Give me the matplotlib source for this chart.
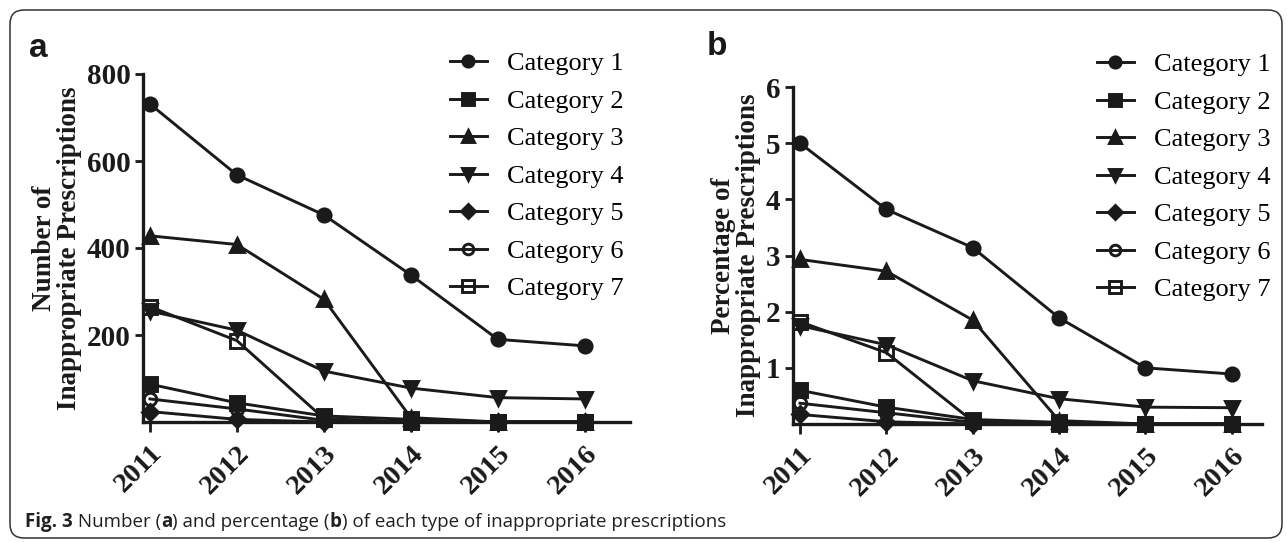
import matplotlib
matplotlib.use("Agg")
import matplotlib.pyplot as plt
from matplotlib.patches import FancyBboxPatch
from matplotlib.font_manager import FontProperties

# ---------------- data ----------------
years = ["2011", "2012", "2013", "2014", "2015", "2016"]
categories = ["Category 1", "Category 2", "Category 3", "Category 4",
              "Category 5", "Category 6", "Category 7"]

# panel a: number of inappropriate prescriptions
count_cat1 = [731, 568, 476, 338, 190, 175]
count_cat2 = [87, 44, 14, 6, 0, 0]
count_cat3 = [428, 408, 282, 10, 0, 0]
count_cat4 = [255, 211, 117, 78, 56, 53]
count_cat5 = [24, 6, 0, 0, 0, 0]
count_cat6 = [53, 30, 4, 0, 0, 0]
count_cat7 = [265, 187, 8, 0, 0, 0]

# panel b: percentage of inappropriate prescriptions
pct_cat1 = [5.0, 3.82, 3.14, 1.89, 1.0, 0.89]
pct_cat2 = [0.6, 0.3, 0.08, 0.03, 0, 0]
pct_cat3 = [2.93, 2.72, 1.85, 0.06, 0, 0]
pct_cat4 = [1.75, 1.41, 0.77, 0.45, 0.30, 0.29]
pct_cat5 = [0.17, 0.04, 0, 0, 0, 0]
pct_cat6 = [0.37, 0.2, 0.03, 0, 0, 0]
pct_cat7 = [1.82, 1.27, 0.05, 0, 0, 0]

count_series = [count_cat1, count_cat2, count_cat3, count_cat4,
                count_cat5, count_cat6, count_cat7]
pct_series = [pct_cat1, pct_cat2, pct_cat3, pct_cat4,
              pct_cat5, pct_cat6, pct_cat7]

# ---------------- style ----------------
W, H = 1287, 542
INK = "#1a1a1a"
SERIF = "Liberation Serif"
markers = ["o", "s", "^", "v", "D", "o", "s"]
filled = [True, True, True, True, True, False, False]
msizes = [9.5, 9.5, 10, 10, 8, 9, 9.5]

fig = plt.figure(figsize=(W / 100, H / 100), dpi=100)

# background (pixel coordinates)
bg = fig.add_axes([0, 0, 1, 1], zorder=0)
bg.set_xlim(0, W)
bg.set_ylim(H, 0)
bg.axis("off")
bg.add_patch(FancyBboxPatch((10, 10), 1272, 528,
                            boxstyle="round,pad=0,rounding_size=14",
                            fc="white", ec="#333333", lw=1.1))


def px_axes(left, right, top, bottom):
    return fig.add_axes([left / W, 1 - bottom / H, (right - left) / W,
                         (bottom - top) / H], zorder=2, facecolor="none")


def style_axes(ax, xlim, ylim, yticks, ylabel, label_x):
    ax.set_xlim(*xlim)
    ax.set_ylim(*ylim)
    for s in ("top", "right"):
        ax.spines[s].set_visible(False)
    for s in ("left", "bottom"):
        ax.spines[s].set_linewidth(2.4)
        ax.spines[s].set_color(INK)
    ax.spines["left"].set_bounds(ylim[0], ylim[1])
    ax.set_xticks(range(len(years)))
    ax.set_xticklabels(years, rotation=45, ha="right", va="top",
                       rotation_mode="anchor", fontfamily=SERIF,
                       fontweight="bold", fontsize=20.5, color=INK)
    ax.set_yticks(yticks)
    ax.set_yticklabels([str(t) for t in yticks], fontfamily=SERIF,
                       fontweight="bold", fontsize=21, color=INK)
    ax.tick_params(axis="x", direction="out", length=7.5, width=2.0,
                   color=INK, pad=6)
    ax.tick_params(axis="y", direction="out", length=6, width=2.0,
                   color=INK, pad=3)
    ax.set_ylabel(ylabel, fontfamily=SERIF, fontweight="bold", fontsize=19.5,
                  linespacing=1.0, color=INK)
    ax.yaxis.set_label_coords(label_x, 0.5)


def draw(ax, series):
    handles = []
    for vals, m, f, ms in zip(series, markers, filled, msizes):
        (ln,) = ax.plot(range(len(years)), vals, color=INK, lw=2.1,
                        marker=m, markersize=ms,
                        markerfacecolor=INK if f else "none",
                        markeredgecolor=INK, markeredgewidth=2.1,
                        clip_on=False, zorder=3)
        handles.append(ln)
    return handles


# panel a
ax_a = px_axes(143, 630, 74, 422)
style_axes(ax_a, (-0.08, 5.52), (0, 800), [200, 400, 600, 800],
           "Number of\nInappropriate Prescriptions", -0.125)
ha = draw(ax_a, count_series)

# panel b
ax_b = px_axes(793, 1262, 87, 424)
style_axes(ax_b, (-0.081, 5.35), (0, 6), [1, 2, 3, 4, 5, 6],
           "Percentage of\nInappropriate Prescriptions", -0.068)
hb = draw(ax_b, pct_series)

leg_prop = FontProperties(family=SERIF, size=19)
for ax, hs, x0, y0 in ((ax_a, ha, 450, 52), (ax_b, hb, 1097, 53)):
    ax.legend(hs, categories, loc="upper left",
              bbox_to_anchor=(x0 / W, 1 - y0 / H),
              bbox_transform=fig.transFigure, frameon=False, prop=leg_prop,
              handlelength=1.4, handletextpad=0.75, labelspacing=0.53,
              borderpad=0, borderaxespad=0, markerscale=0.85)

# panel letters
bg.text(29, 57, "a", fontfamily="Liberation Sans", fontweight="bold",
        fontsize=24, color=INK, va="baseline", ha="left")
bg.text(707, 55, "b", fontfamily="Liberation Sans", fontweight="bold",
        fontsize=24, color=INK, va="baseline", ha="left")

# caption
renderer = fig.canvas.get_renderer()
pieces = [("Fig. 3", "bold"), (" Number (", "normal"), ("a", "bold"),
          (") and percentage (", "normal"), ("b", "bold"),
          (") of each type of inappropriate prescriptions", "normal")]
x = 25
for s, w in pieces:
    t = bg.text(x, 527, s, fontfamily="Open Sans", fontweight=w,
                fontsize=13.5, color="#231f20", va="baseline", ha="left")
    x += t.get_window_extent(renderer).width

fig.savefig("out.png", dpi=100)
